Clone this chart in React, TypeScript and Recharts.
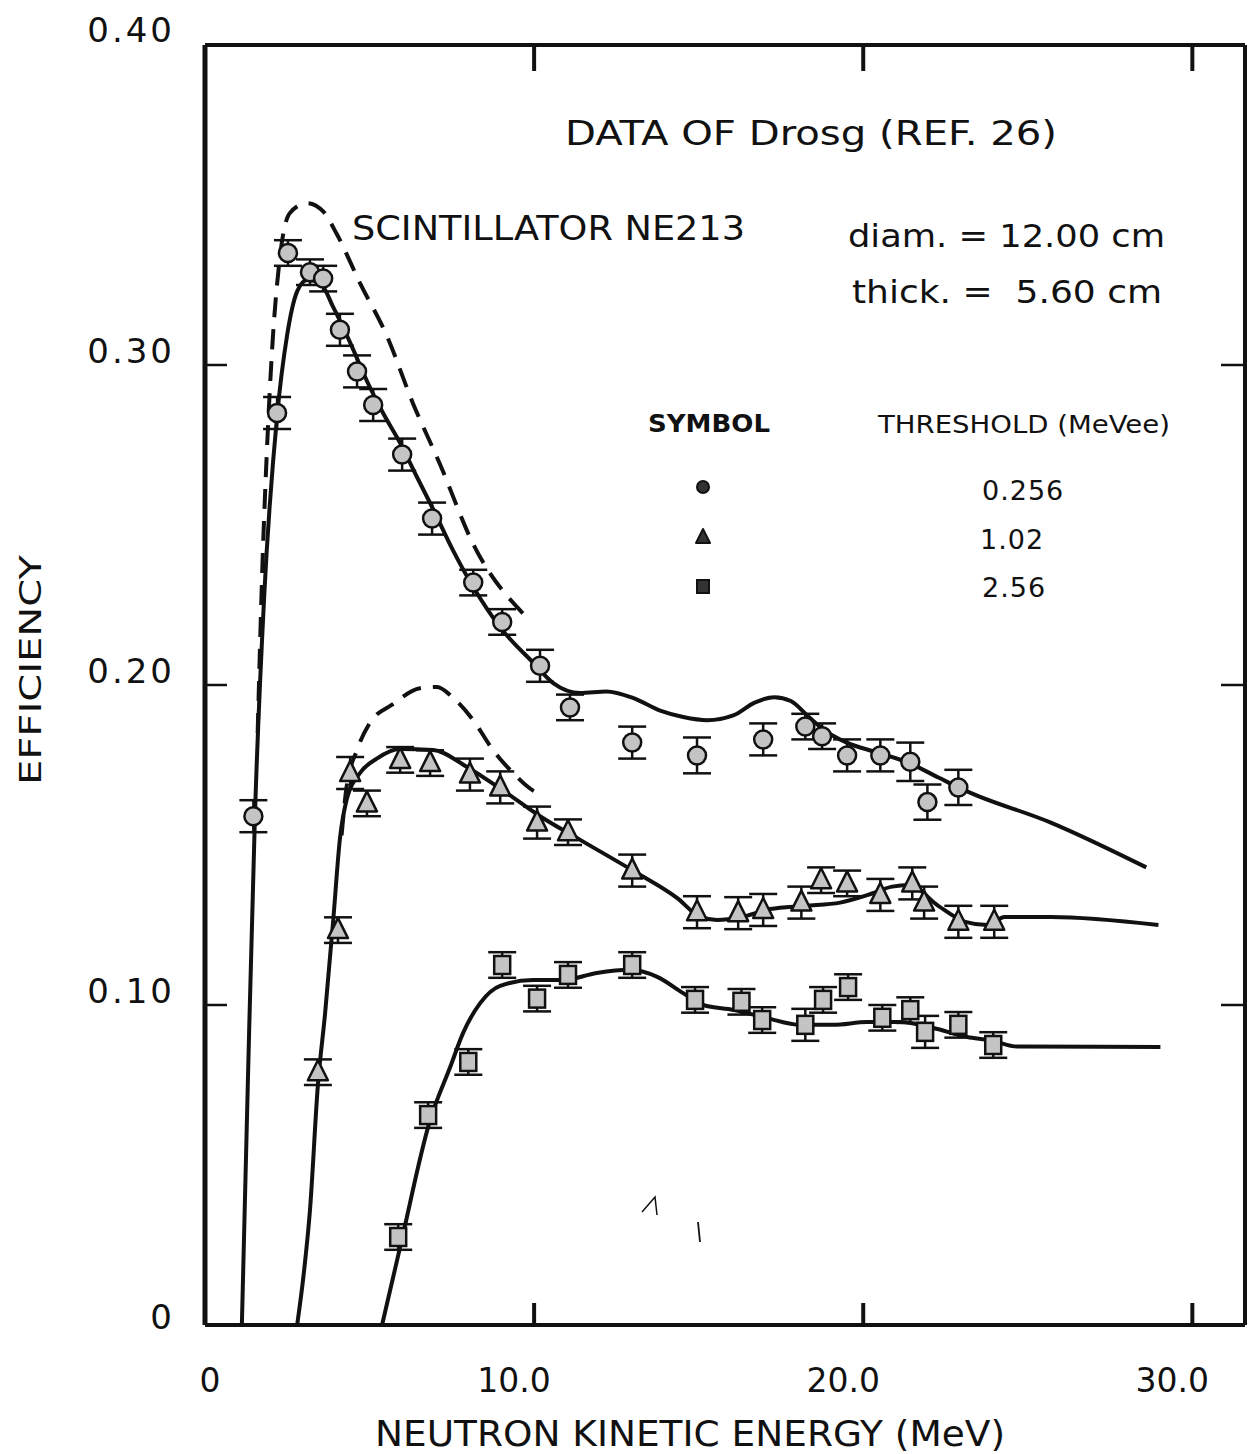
import React from 'react';
import { ComposedChart, Line, Scatter, XAxis, YAxis, ErrorBar } from 'recharts';

// ---- axis ticks ----
const xTicks = [0, 10, 20, 30];
const xTickLabels = ['0', '10.0', '20.0', '30.0'];
const yTicks = [0, 0.1, 0.2, 0.3, 0.4];
const yTickLabels = ['0', '0.10', '0.20', '0.30', '0.40'];

// ---- measured points [energy MeV, efficiency, error] ----
const circlePts: [number, number, number][] = [
  [1.47, 0.159, 0.005], [2.19, 0.285, 0.005], [2.52, 0.335, 0.004], [3.19, 0.329, 0.004],
  [3.59, 0.327, 0.004], [4.1, 0.311, 0.005], [4.62, 0.298, 0.005], [5.11, 0.2875, 0.005],
  [5.99, 0.272, 0.005], [6.9, 0.252, 0.005], [8.15, 0.232, 0.004], [9.03, 0.2197, 0.004],
  [10.18, 0.206, 0.005], [11.09, 0.193, 0.004], [12.98, 0.182, 0.005], [14.95, 0.178, 0.0056],
  [16.96, 0.183, 0.005], [18.24, 0.187, 0.004], [18.75, 0.184, 0.004], [19.51, 0.178, 0.005],
  [20.52, 0.178, 0.005], [21.43, 0.176, 0.006], [21.95, 0.1634, 0.0055], [22.89, 0.168, 0.0055],
];

const trianglePts: [number, number, number][] = [
  [3.43, 0.079, 0.004], [4.04, 0.1234, 0.004], [4.41, 0.1725, 0.005], [4.92, 0.163, 0.004],
  [5.93, 0.1766, 0.004], [6.84, 0.1756, 0.004], [8.05, 0.172, 0.005], [8.97, 0.168, 0.005],
  [10.09, 0.157, 0.005], [11.03, 0.154, 0.004], [12.98, 0.142, 0.005], [14.95, 0.129, 0.005],
  [16.2, 0.1287, 0.005], [16.96, 0.1297, 0.005], [18.12, 0.132, 0.005], [18.72, 0.139, 0.004],
  [19.51, 0.138, 0.004], [20.52, 0.1344, 0.005], [21.49, 0.138, 0.005], [21.85, 0.132, 0.005],
  [22.89, 0.126, 0.005], [23.98, 0.126, 0.005],
];

const squarePts: [number, number, number][] = [
  [5.87, 0.0275, 0.004], [6.78, 0.0656, 0.004], [8.0, 0.0822, 0.004], [9.03, 0.1125, 0.004],
  [10.09, 0.102, 0.004], [11.03, 0.1094, 0.004], [12.98, 0.1125, 0.004], [14.89, 0.1016, 0.004],
  [16.3, 0.101, 0.004], [16.93, 0.0953, 0.004], [18.24, 0.0938, 0.005], [18.78, 0.1016, 0.004],
  [19.54, 0.1056, 0.004], [20.58, 0.096, 0.004], [21.43, 0.0984, 0.004], [21.88, 0.0916, 0.005],
  [22.89, 0.0938, 0.004], [23.95, 0.0875, 0.004],
];

// ---- calculated curves [energy MeV, efficiency] ----
const circleSolid: [number, number][] = [
  [1.12, 0], [1.3, 0.075], [1.52, 0.16], [1.8, 0.228], [2.19, 0.284], [2.49, 0.309],
  [2.8, 0.323], [3.1, 0.3266], [3.5, 0.3256], [3.9, 0.318], [4.41, 0.307], [4.92, 0.295],
  [5.41, 0.285], [5.93, 0.2756], [6.44, 0.265], [6.93, 0.255], [7.54, 0.242], [8.15, 0.2306],
  [8.97, 0.218], [9.97, 0.207], [10.58, 0.2006], [11.4, 0.1975], [12.2, 0.198], [13.0, 0.196],
  [13.83, 0.192], [14.53, 0.19], [15.26, 0.189], [16.05, 0.1905], [16.7, 0.1945], [17.3, 0.1962],
  [17.8, 0.195], [18.3, 0.1905], [18.8, 0.186], [19.5, 0.182], [20.4, 0.179], [21.4, 0.1756],
  [22.3, 0.171], [23.1, 0.167], [25.7, 0.157], [28.6, 0.143],
];

const circleDashed: [number, number][] = [
  [1.6, 0.185], [1.76, 0.242], [1.88, 0.273], [2.04, 0.305], [2.28, 0.334], [2.58, 0.3475],
  [3.1, 0.3506], [3.59, 0.348], [4.0, 0.341], [4.71, 0.3256], [5.53, 0.309], [6.32, 0.288],
  [7.14, 0.269], [8.15, 0.244], [9.79, 0.221],
];

const triangleSolid: [number, number][] = [
  [2.8, 0], [3.0, 0.016], [3.19, 0.036], [3.43, 0.075], [3.65, 0.0975], [3.9, 0.127],
  [4.1, 0.152], [4.3, 0.164], [4.71, 0.1725], [5.22, 0.177], [5.93, 0.18], [6.93, 0.1797],
  [7.96, 0.1744], [9.06, 0.167], [10.18, 0.159], [11.4, 0.1516], [13.0, 0.142], [14.35, 0.1334],
  [15.05, 0.1275], [15.56, 0.1266], [16.3, 0.1275], [17.17, 0.13], [18.24, 0.131], [19.3, 0.132],
  [20.15, 0.1344], [20.88, 0.137], [21.4, 0.1375], [22.28, 0.131], [23.1, 0.126], [23.77, 0.125],
  [24.3, 0.1275], [25.7, 0.1275], [28.97, 0.125],
];

const triangleDashed: [number, number][] = [
  [4.15, 0.153], [4.3, 0.168], [4.62, 0.1797], [5.0, 0.188], [5.71, 0.194], [6.53, 0.199],
  [7.05, 0.1994], [7.54, 0.196], [8.15, 0.189], [8.75, 0.1797], [9.36, 0.1725], [9.97, 0.167],
  [10.27, 0.1656],
];

const squareSolid: [number, number][] = [
  [5.38, 0], [5.93, 0.0244], [6.84, 0.064], [7.45, 0.0806], [7.84, 0.0912], [8.36, 0.1006],
  [8.97, 0.106], [9.97, 0.1078], [10.88, 0.1078], [11.9, 0.11], [12.9, 0.111], [13.74, 0.1088],
  [14.53, 0.1037], [15.14, 0.1], [16.05, 0.0985], [17.08, 0.0959], [18.09, 0.0938], [19.09, 0.0938],
  [20.12, 0.0947], [21.12, 0.0947], [22.13, 0.0928], [23.16, 0.09], [23.86, 0.089], [24.68, 0.087],
  [29.03, 0.0869],
];

const pts = (a: [number, number, number][]) => a.map(([x, y, err]) => ({ x, y, err }));
const crv = (a: [number, number][]) => a.map(([x, y]) => ({ x, y }));

const FONT = '"DejaVu Sans", sans-serif';
const INK = '#111';
const MARK_FILL = '#c4c4c4';

const CircleMark = (p: any) => (
  <circle cx={p.cx} cy={p.cy} r={9} fill={MARK_FILL} stroke={INK} strokeWidth={2.5} />
);
const TriMark = (p: any) => (
  <path
    d={`M${p.cx},${p.cy - 12} L${p.cx + 10},${p.cy + 8} L${p.cx - 10},${p.cy + 8} Z`}
    fill={MARK_FILL}
    stroke={INK}
    strokeWidth={2.5}
    strokeLinejoin="round"
  />
);
const SquareMark = (p: any) => (
  <rect x={p.cx - 8} y={p.cy - 9} width={16} height={18} fill={MARK_FILL} stroke={INK} strokeWidth={2.5} />
);

const BottomTick = (p: any) => {
  const v = p.payload.value;
  const i = xTicks.indexOf(v);
  return (
    <g>
      {v !== 0 && <line x1={p.x} y1={p.y} x2={p.x} y2={p.y - 22} stroke={INK} strokeWidth={4} />}
      <text x={p.x + (v === 0 ? 5 : -20)} y={p.y + 67} textAnchor="middle" fontSize={33} fontFamily={FONT} fill={INK}>
        {xTickLabels[i]}
      </text>
    </g>
  );
};
const TopTick = (p: any) => {
  const v = p.payload.value;
  if (v === 0) return <g />;
  return <line x1={p.x} y1={p.y} x2={p.x} y2={p.y + 26} stroke={INK} strokeWidth={4} />;
};
const LeftTick = (p: any) => {
  const v = p.payload.value;
  const i = yTicks.indexOf(v);
  const inner = v > 0.05 && v < 0.35;
  const dy = v === 0 ? 4 : v === 0.4 ? -3 : -2;
  return (
    <g>
      {inner && <line x1={p.x} y1={p.y} x2={p.x + 22} y2={p.y} stroke={INK} strokeWidth={2.5} />}
      <text x={p.x - 30} y={p.y + dy} textAnchor="end" fontSize={34}
        letterSpacing={3} fontFamily={FONT} fill={INK}>
        {yTickLabels[i]}
      </text>
    </g>
  );
};
const RightTick = (p: any) => {
  const v = p.payload.value;
  if (!(v > 0.05 && v < 0.35)) return <g />;
  return <line x1={p.x} y1={p.y} x2={p.x - 24} y2={p.y} stroke={INK} strokeWidth={2.5} />;
};

const lineProps = {
  dataKey: 'y',
  type: 'monotone' as const,
  dot: false,
  activeDot: false,
  stroke: INK,
  strokeWidth: 4,
  isAnimationActive: false,
  xAxisId: 'b',
  yAxisId: 'l',
};

export default function App() {
  return (
    <ComposedChart
      width={1250}
      height={1446}
      margin={{ top: 27, right: 3, bottom: 89, left: 137 }}
      style={{ background: '#fff' }}
    >
      <XAxis xAxisId="b" dataKey="x" type="number" domain={[0, 31.6]} ticks={xTicks} orientation="bottom"
        height={40} tickSize={0} tickMargin={0} tickLine={false} tick={<BottomTick />}
        axisLine={{ stroke: INK, strokeWidth: 4 }} allowDataOverflow />
      <XAxis xAxisId="t" dataKey="x" type="number" domain={[0, 31.6]} ticks={xTicks} orientation="top"
        height={10} tickSize={0} tickMargin={0} tickLine={false} tick={<TopTick />}
        axisLine={{ stroke: INK, strokeWidth: 4 }} allowDataOverflow />
      <YAxis yAxisId="l" dataKey="y" type="number" domain={[0, 0.4]} ticks={yTicks} orientation="left"
        width={60} tickSize={0} tickMargin={0} tickLine={false} tick={<LeftTick />}
        axisLine={{ stroke: INK, strokeWidth: 5 }} allowDataOverflow />
      <YAxis yAxisId="r" dataKey="y" type="number" domain={[0, 0.4]} ticks={yTicks} orientation="right"
        width={10} tickSize={0} tickMargin={0} tickLine={false} tick={<RightTick />}
        axisLine={{ stroke: INK, strokeWidth: 4 }} allowDataOverflow />

      <Line {...lineProps} data={crv(circleSolid)} />
      <Line {...lineProps} data={crv(circleDashed)} strokeDasharray="20 12" />
      <Line {...lineProps} data={crv(triangleSolid)} />
      <Line {...lineProps} data={crv(triangleDashed)} strokeDasharray="20 12" />
      <Line {...lineProps} data={crv(squareSolid)} />

      <Scatter data={pts(circlePts)} dataKey="y" xAxisId="b" yAxisId="l" shape={CircleMark} isAnimationActive={false}>
        <ErrorBar dataKey="err" direction="y" width={14} stroke={INK} strokeWidth={2.5} />
      </Scatter>
      <Scatter data={pts(trianglePts)} dataKey="y" xAxisId="b" yAxisId="l" shape={TriMark} isAnimationActive={false}>
        <ErrorBar dataKey="err" direction="y" width={14} stroke={INK} strokeWidth={2.5} />
      </Scatter>
      <Scatter data={pts(squarePts)} dataKey="y" xAxisId="b" yAxisId="l" shape={SquareMark} isAnimationActive={false}>
        <ErrorBar dataKey="err" direction="y" width={14} stroke={INK} strokeWidth={2.5} />
      </Scatter>

      {/* annotations */}
      <g fontFamily={FONT} fill={INK}>
        <text x={22} y={662} transform="rotate(-90 22 662)" textAnchor="middle" dominantBaseline="central"
          fontSize={30} textLength={230} lengthAdjust="spacingAndGlyphs">EFFICIENCY</text>
        <text x={367} y={1438} fontSize={36} textLength={630} lengthAdjust="spacingAndGlyphs">NEUTRON KINETIC ENERGY (MeV)</text>
        <text x={557} y={137} fontSize={34} textLength={492} lengthAdjust="spacingAndGlyphs">DATA OF Drosg (REF. 26)</text>
        <text x={344} y={232} fontSize={34} textLength={393} lengthAdjust="spacingAndGlyphs">SCINTILLATOR NE213</text>
        <text x={840} y={239} fontSize={32} textLength={317} lengthAdjust="spacingAndGlyphs">diam. = 12.00 cm</text>
        <text x={844} y={295} fontSize={32} textLength={310} lengthAdjust="spacingAndGlyphs" style={{ whiteSpace: 'pre' }}>thick. =  5.60 cm</text>
        <text x={640} y={424} fontSize={24} fontWeight="bold" textLength={122} lengthAdjust="spacingAndGlyphs">SYMBOL</text>
        <text x={870} y={425} fontSize={24} textLength={292} lengthAdjust="spacingAndGlyphs">THRESHOLD (MeVee)</text>
        <text x={974} y={492} fontSize={27} letterSpacing={1}>0.256</text>
        <text x={972} y={541} fontSize={27} letterSpacing={1}>1.02</text>
        <text x={974} y={589} fontSize={27} letterSpacing={1}>2.56</text>
        <circle cx={695} cy={479} r={6} fill="#333" stroke={INK} strokeWidth={2} />
        <path d="M695,521 L702,535 L688,535 Z" fill="#333" stroke={INK} strokeWidth={2} strokeLinejoin="round" />
        <rect x={689} y={572} width={12} height={13} fill="#333" stroke={INK} strokeWidth={2} />
        <path d="M634,1204 L647,1189 L649,1207" fill="none" stroke={INK} strokeWidth={1.5} />
        <path d="M690,1214 L692,1234" fill="none" stroke={INK} strokeWidth={1.8} />
      </g>
    </ComposedChart>
  );
}
